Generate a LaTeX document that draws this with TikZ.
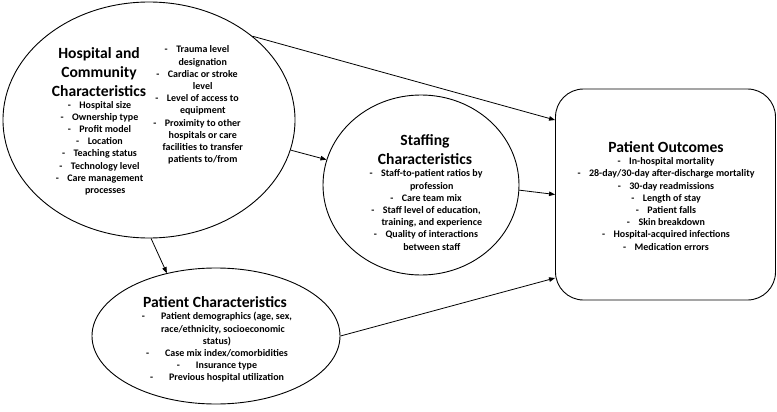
\documentclass[tikz,border=0pt]{standalone}
\usepackage{fontspec}
\setmainfont{Carlito}
\usetikzlibrary{shapes.geometric,arrows.meta}
% one list entry: a dash, a gap, then the text
\newcommand\itemline[2][0.85em]{-\hspace{#1}#2}
% continuation of a list entry, indented past the dash
\newcommand\itemcont[2][0.85em]{\hphantom{-\hspace{#1}}#2}
\begin{document}
\begin{tikzpicture}[x=1pt,y=-1pt,
  oval/.style={draw,ellipse,line width=0.9pt,inner sep=0pt},
  heading/.style={font=\fontsize{15.6}{19}\selectfont\bfseries,align=center,inner sep=0pt},
  items/.style={font=\fontsize{10}{12.2}\selectfont\bfseries,align=center,inner sep=0pt},
  link/.style={line width=0.8pt,-{Triangle[length=6pt,width=4.5pt]}}]
\useasboundingbox (0,0) rectangle (777,412);

% outlines
\node[oval,minimum width=292pt,minimum height=236pt] (hosp) at (149,120) {};
\node[oval,minimum width=196pt,minimum height=180pt] (staff) at (421,185) {};
\node[oval,minimum width=248pt,minimum height=136pt] (pat) at (216,336) {};
\node[draw,rounded corners=28pt,line width=0.9pt,minimum width=220pt,
      minimum height=211pt,inner sep=0pt] (out) at (665.5,194.5) {};

% hospital and community
\node[heading] (hosptitle) at (99,72) {Hospital and\\Community\\Characteristics};
\node[items] (hospleft) at (99.5,148) {\itemline{Hospital size}\\\itemline{Ownership type}\\
  \itemline{Profit model}\\\itemline{Location}\\\itemline{Teaching status}\\
  \itemline{Technology level}\\\itemline{Care management}\\\itemcont{processes}};
\node[items] (hospright) at (197,105) {\itemline{Trauma level}\\\itemcont{designation}\\
  \itemline{Cardiac or stroke}\\\itemcont{level}\\\itemline{Level of access to}\\
  \itemcont{equipment}\\\itemline{Proximity to other}\\\itemcont{hospitals or care}\\
  \itemcont{facilities to transfer}\\\itemcont{patients to/from}};

% staffing
\node[heading] (stafftitle) at (425,150) {Staffing\\Characteristics};
\node[items] (staffbody) at (426,210) {\itemline{Staff-to-patient ratios by}\\\itemcont{profession}\\
  \itemline{Care team mix}\\\itemline{Staff level of education,}\\
  \itemcont{training, and experience}\\\itemline{Quality of interactions}\\\itemcont{between staff}};

% patient
\node[heading] (pattitle) at (215,302) {Patient Characteristics};
\node[items] (patbody) at (217,347.5) {\itemline[1.6em]{Patient demographics (age, sex,}\\
  \hspace*{12pt}race/ethnicity, socioeconomic\\status)\\
  \itemline[1.6em]{Case mix index/comorbidities}\\\itemline[1.6em]{Insurance type}\\
  \itemline[1.6em]{Previous hospital utilization}};

% outcomes
\node[heading] (outtitle) at (666,147) {Patient Outcomes};
\node[items] (outbody) at (666,204) {\itemline{In-hospital mortality}\\
  \itemline{28-day/30-day after-discharge mortality}\\\itemline{30-day readmissions}\\
  \itemline{Length of stay}\\\itemline{Patient falls}\\\itemline{Skin breakdown}\\
  \itemline{Hospital-acquired infections}\\\itemline{Medication errors}};

% connectors
\draw[link] (hosp.39.5) -- ([yshift=74.5pt]out.west);
\draw[link] (hosp.-12) -- (staff.165);
\draw[link] (staff.-3) -- (out.west);
\draw[link] (hosp.-89) -- (pat.128);
\draw[link] (pat.0) -- ([yshift=-83.5pt]out.west);
\end{tikzpicture}
\end{document}
